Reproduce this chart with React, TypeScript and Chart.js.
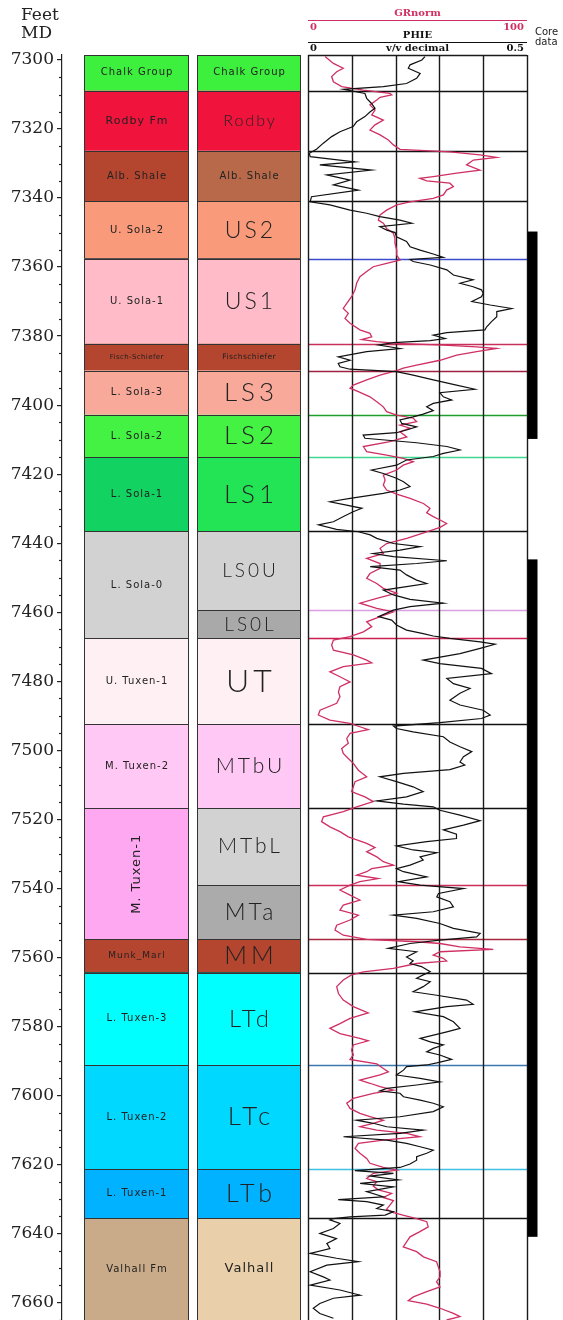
import React, { useEffect, useRef } from "react";
import { Chart, registerables } from "chart.js";
Chart.register(...registerables);

// ---------------- DATA ----------------
const DEPTH_MIN = 7298.55;
const DEPTH_MAX = 7665.1;
const DEPTH_LABELS = [7300, 7320, 7340, 7360, 7380, 7400, 7420, 7440, 7460, 7480, 7500, 7520, 7540, 7560, 7580, 7600, 7620, 7640, 7660];
const DEPTH_MINOR_STEP = 5;

const ZONE_NAMES = ["Chalk Group", "Rodby Fm", "Alb. Shale", "U. Sola-2", "U. Sola-1", "Fisch-Schiefer", "L. Sola-3", "L. Sola-2", "L. Sola-1", "L. Sola-0", "U. Tuxen-1", "M. Tuxen-2", "M. Tuxen-1", "Munk_Marl", "L. Tuxen-3", "L. Tuxen-2", "L. Tuxen-1", "Valhall Fm"];
const ZONE_TOPS = [7298.55, 7308.9, 7326.3, 7341.0, 7357.6, 7382.2, 7390.0, 7402.8, 7415.1, 7436.6, 7467.6, 7492.4, 7516.8, 7554.8, 7564.5, 7591.2, 7621.4, 7635.6];
const ZONE_BASES = [7308.9, 7326.3, 7341.0, 7357.6, 7382.2, 7390.0, 7402.8, 7415.1, 7436.6, 7467.6, 7492.4, 7516.8, 7554.8, 7564.5, 7591.2, 7621.4, 7635.6, 7665.1];

const SUBZONE_NAMES = ["Chalk Group", "Rodby", "Alb. Shale", "US2", "US1", "Fischschiefer", "LS3", "LS2", "LS1", "LS0U", "LS0L", "UT", "MTbU", "MTbL", "MTa", "MM", "LTd", "LTc", "LTb", "Valhall"];
const SUBZONE_TOPS = [7298.55, 7308.9, 7326.3, 7341.0, 7357.6, 7382.2, 7390.0, 7402.8, 7415.1, 7436.6, 7459.5, 7467.6, 7492.4, 7516.8, 7539.1, 7554.8, 7564.5, 7591.2, 7621.4, 7635.6];
const SUBZONE_BASES = [7308.9, 7326.3, 7341.0, 7357.6, 7382.2, 7390.0, 7402.8, 7415.1, 7436.6, 7459.5, 7467.6, 7492.4, 7516.8, 7539.1, 7554.8, 7564.5, 7591.2, 7621.4, 7635.6, 7665.1];

const TOP_LINE_DEPTHS = [7308.9, 7326.3, 7341.0, 7357.6, 7382.2, 7390.0, 7402.8, 7415.1, 7436.6, 7459.5, 7467.6, 7492.4, 7516.8, 7539.1, 7554.8, 7564.5, 7591.2, 7621.4, 7635.6];

const CORE_TOPS = [7349.7, 7444.7];
const CORE_BASES = [7409.8, 7641.0];

const GR_RANGE = [0, 100];
const PHIE_RANGE = [0, 0.5];
const PHIE_GRID = [0, 0.1, 0.2, 0.3, 0.4, 0.5];

const GR_DEPTH = [
  7299.0, 7301.0, 7302.4, 7303.4, 7304.8, 7306.3, 7307.7, 7308.7, 7309.7, 7310.1, 7310.8, 7311.6, 7313.0, 7314.5, 7315.9, 7317.4, 7318.8, 7320.3, 7321.7, 7323.2, 7324.6, 7325.9,
  7326.6, 7327.5, 7328.2, 7329.0, 7330.4, 7331.9, 7332.8, 7333.8, 7334.3, 7335.0, 7335.7, 7336.7, 7337.7, 7339.1, 7340.1, 7341.1, 7342.0, 7343.5, 7344.9, 7346.4, 7347.3,
  7348.8, 7350.2, 7351.7, 7353.1, 7355.1, 7356.5, 7358.0, 7358.9, 7359.9, 7361.3, 7362.8, 7364.7, 7366.6,
  7368.6, 7370.5, 7372.0, 7373.4, 7374.9, 7376.3, 7378.2, 7379.2, 7380.2, 7381.0, 7381.6, 7382.1, 7382.6, 7383.1, 7383.6, 7384.5, 7385.5, 7387.0, 7388.4, 7389.3, 7390.0,
  7391.3, 7392.7, 7394.2, 7395.1, 7396.1, 7397.6, 7399.0, 7400.5, 7401.9, 7402.9, 7403.8, 7404.8, 7405.8, 7406.7, 7407.7, 7409.2, 7410.6, 7412.0, 7413.5, 7414.5, 7415.4,
  7416.4, 7417.4, 7418.8, 7420.3, 7421.7, 7423.2, 7424.6, 7425.8, 7427.0, 7428.5, 7429.9, 7431.2, 7432.3, 7433.3, 7434.3, 7435.4, 7436.7, 7438.6, 7440.1, 7441.5, 7443.0,
  7444.4, 7445.9, 7447.3, 7448.8, 7450.2, 7451.7, 7453.1, 7454.5, 7456.0, 7457.4, 7458.9, 7459.9,
  7461.3, 7462.8, 7464.2, 7465.7, 7467.1, 7468.1, 7469.5, 7471.0, 7472.4, 7473.9, 7474.7, 7475.8, 7477.3, 7478.7, 7480.2, 7481.6, 7483.1, 7484.5, 7486.4, 7488.4, 7489.8,
  7491.3, 7492.2, 7493.2, 7494.0, 7495.1, 7496.6, 7498.0, 7499.5, 7500.9, 7502.4, 7503.8, 7505.8, 7507.7, 7509.1, 7510.6, 7512.0, 7513.5, 7514.9, 7516.4, 7517.8, 7519.3,
  7520.7, 7522.2, 7523.6, 7525.1, 7527.0, 7528.2, 7529.4, 7530.9, 7532.3, 7533.3, 7534.3, 7535.2, 7536.2, 7537.2, 7538.1, 7539.1, 7540.5, 7542.0, 7543.4, 7544.9, 7546.3,
  7547.8, 7549.2, 7550.7, 7552.1, 7553.6, 7554.8, 7555.5, 7556.0, 7557.0, 7557.7, 7558.4, 7559.4, 7560.3, 7561.1,
  7561.8, 7563.2, 7564.2, 7565.1, 7566.6, 7568.5, 7570.5, 7572.4, 7574.3, 7576.1, 7577.7, 7579.2, 7580.6, 7582.1, 7583.5, 7584.2, 7585.4, 7586.9, 7588.3, 7589.6, 7590.9,
  7592.2, 7593.2, 7594.1, 7595.6, 7596.5, 7597.5, 7598.5, 7599.4, 7600.9, 7602.3, 7603.8, 7605.2, 7606.2, 7607.2, 7608.1, 7609.1, 7610.1, 7611.0, 7612.0, 7613.0, 7613.9,
  7615.4, 7616.8, 7618.3, 7619.7, 7620.9, 7621.7, 7622.6, 7624.1, 7625.0, 7626.3, 7627.4, 7628.4, 7629.6, 7630.5, 7631.8, 7633.0, 7634.0, 7635.0, 7635.7, 7636.6, 7638.1,
  7639.5, 7641.0, 7642.4, 7643.9, 7645.3, 7646.8, 7648.2, 7649.7, 7651.1, 7652.6, 7654.0, 7655.5, 7656.9, 7658.4, 7659.5, 7660.5, 7661.7, 7663.2, 7664.1, 7665.1
];
const GR_VALUES = [
  7.8, 11.6, 16.1, 13.1, 10.8, 11.6, 15.4, 25.3, 37.4, 38.2, 32.9, 31.4, 28.3, 30.6, 29.1, 34.4, 30.6, 28.3, 32.9, 36.7, 39.0, 42.0,
  64.8, 78.5, 86.1, 75.5, 72.4, 78.5, 67.9, 57.2, 51.1, 54.2, 64.8, 66.4, 63.3, 61.8, 57.2, 46.6, 40.5, 35.9, 32.9, 32.1, 34.4,
  35.9, 39.0, 39.7, 39.7, 40.5, 40.5, 42.0, 35.9, 29.8, 26.8, 23.7, 22.2, 21.5,
  19.9, 17.7, 16.1, 18.4, 16.9, 19.2, 23.7, 28.3, 29.1, 24.5, 31.4, 40.5, 61.8, 77.0, 86.1, 77.0, 67.9, 60.3, 49.6, 43.5, 40.5,
  32.9, 26.8, 20.7, 19.2, 23.0, 28.3, 31.4, 34.4, 35.9, 40.5, 48.1, 49.6, 42.0, 46.6, 42.0, 45.1, 37.4, 25.3, 26.8, 35.9, 43.5,
  48.1, 43.5, 40.5, 34.4, 35.2, 34.4, 35.9, 40.5, 46.6, 52.7, 55.7, 54.2, 57.2, 60.3, 63.3, 60.3, 54.2, 45.1, 35.9, 32.9, 34.4,
  26.8, 32.9, 32.9, 28.3, 26.8, 31.4, 34.4, 40.5, 31.4, 23.7, 31.4, 39.0,
  32.9, 26.8, 29.1, 25.3, 19.2, 11.6, 10.8, 11.6, 20.7, 26.8, 29.1, 16.1, 10.0, 14.6, 19.2, 14.6, 13.9, 14.6, 13.1, 5.5, 4.7,
  10.0, 19.2, 23.7, 27.5, 19.2, 17.7, 18.4, 15.4, 16.1, 18.4, 20.7, 23.0, 26.8, 21.5, 20.7, 19.9, 26.0, 29.8, 22.2, 16.1, 7.0,
  6.2, 10.0, 14.6, 18.4, 26.8, 30.6, 26.8, 31.4, 34.4, 39.0, 29.1, 26.8, 22.2, 32.1, 23.7, 19.2, 14.6, 19.2, 23.7, 16.1, 14.6,
  23.0, 19.2, 13.1, 12.3, 16.1, 26.8, 49.6, 60.3, 69.4, 84.6, 60.3, 57.2, 61.8, 63.3,
  49.6, 39.0, 25.3, 19.9, 16.1, 13.1, 13.9, 16.1, 20.7, 27.5, 19.2, 14.6, 10.0, 14.6, 23.7, 27.5, 20.7, 19.9, 20.7, 19.2, 31.4,
  34.4, 36.7, 32.9, 23.7, 28.3, 32.9, 39.0, 29.8, 20.7, 17.7, 19.2, 23.7, 28.3, 34.4, 29.8, 23.7, 31.4, 45.1, 51.1, 34.4, 23.0,
  21.5, 23.7, 26.8, 28.3, 34.4, 40.5, 29.8, 26.8, 31.4, 29.8, 32.1, 38.2, 34.4, 39.0, 37.4, 35.9, 39.0, 45.1, 49.6, 54.2, 54.9,
  51.1, 46.6, 45.1, 43.5, 49.6, 52.7, 58.7, 59.5, 60.3, 60.3, 58.7, 60.3, 54.2, 48.1, 45.8, 54.2, 60.3, 66.4, 69.4, 63.3
];

const PHIE_DEPTH = [
  7299.0, 7300.0, 7301.4, 7302.4, 7303.9, 7305.3, 7306.8, 7307.7, 7308.5, 7309.7, 7311.1, 7312.6, 7314.0, 7315.0, 7316.4, 7317.9, 7319.3, 7320.8, 7322.2, 7324.1, 7325.8,
  7327.0, 7328.0, 7329.5, 7330.4, 7331.9, 7333.3, 7334.8, 7336.2, 7337.7, 7339.6, 7341.1, 7342.0, 7343.5, 7344.4, 7345.4, 7346.4, 7347.3, 7348.3, 7349.3, 7350.0, 7351.2,
  7352.6, 7354.1, 7355.1, 7356.2, 7357.2, 7357.8, 7358.4, 7359.4, 7360.8, 7362.3, 7363.7, 7364.7, 7365.7, 7366.6,
  7367.6, 7368.6, 7370.0, 7371.0, 7372.0, 7372.9, 7374.4, 7375.8, 7377.3, 7378.2, 7379.0, 7379.7, 7380.7, 7381.3, 7381.9, 7382.6, 7383.6, 7384.5, 7386.0, 7387.0, 7387.9,
  7388.9, 7389.6, 7390.3, 7391.3, 7392.7, 7394.2, 7395.4, 7396.4, 7397.6, 7398.5, 7399.5, 7400.5, 7401.6, 7402.6, 7403.4, 7404.3, 7405.3, 7406.3, 7407.2, 7408.0, 7408.7,
  7409.6, 7410.9, 7412.0, 7413.0, 7414.0, 7414.9, 7415.9, 7417.4, 7418.8, 7419.8, 7421.2, 7422.2, 7423.6, 7424.6, 7425.6, 7427.0, 7428.0, 7429.0, 7429.9, 7430.9, 7432.3,
  7433.8, 7434.7, 7436.0, 7436.7, 7437.6, 7438.6, 7440.1, 7441.0, 7442.0, 7443.0, 7443.9, 7445.1, 7445.9, 7446.8, 7447.8, 7449.2, 7450.7, 7451.7, 7452.6, 7453.6, 7455.0,
  7456.3, 7457.4, 7458.4, 7459.4,
  7461.3, 7462.3, 7463.7, 7465.2, 7466.2, 7466.9, 7467.6, 7468.6, 7469.3, 7470.5, 7472.0, 7473.9, 7474.9, 7476.3, 7477.8, 7479.2, 7480.7, 7482.1, 7483.5, 7485.5, 7486.9,
  7488.4, 7489.8, 7490.8, 7492.0, 7493.0, 7493.7, 7494.7, 7496.1, 7497.6, 7499.0, 7500.4, 7501.9, 7503.4, 7504.3, 7505.6, 7506.7, 7507.7, 7509.1, 7510.6, 7512.0, 7513.5,
  7514.7, 7515.6, 7516.4, 7517.4, 7518.8, 7520.4, 7521.7, 7523.1, 7524.3, 7525.6, 7526.5, 7527.7, 7528.9, 7529.7, 7530.9, 7531.8, 7533.3, 7534.3, 7535.2, 7536.7, 7538.1,
  7539.1, 7540.1, 7541.5, 7542.5, 7543.9, 7545.4, 7546.8, 7547.8, 7548.7, 7550.2, 7551.6, 7553.1, 7554.1, 7555.0, 7556.0, 7557.4, 7558.4, 7559.9, 7561.0,
  7561.8, 7562.7, 7564.2, 7565.1, 7566.1, 7567.1, 7568.5, 7570.0, 7571.0, 7572.4, 7573.6, 7574.3, 7575.8, 7577.2, 7578.7, 7580.6, 7581.6, 7583.5, 7584.5, 7585.4, 7586.4,
  7587.4, 7588.3, 7589.6, 7590.6, 7591.2, 7591.7, 7592.7, 7594.1, 7595.1, 7596.1, 7597.0, 7598.0, 7598.7, 7599.4, 7600.4, 7601.4, 7602.3, 7603.3, 7604.7, 7606.2, 7607.2,
  7608.1, 7609.1, 7610.1, 7611.0, 7612.0, 7613.0, 7613.9, 7614.9, 7615.9, 7616.8, 7617.8, 7618.8, 7619.9, 7620.9, 7621.8, 7622.6, 7623.4, 7624.5, 7625.5, 7626.5, 7627.9,
  7629.4, 7630.2, 7630.8, 7631.8, 7632.8, 7633.7, 7634.7, 7635.2, 7635.7, 7636.1, 7637.1, 7638.6, 7640.0, 7641.5, 7642.9, 7644.4, 7645.8, 7647.2, 7648.2, 7649.2, 7651.1,
  7652.6, 7653.5, 7655.0, 7656.4, 7657.9, 7658.8, 7660.3, 7661.7, 7663.2, 7664.6
];
const PHIE_VALUES = [
  0.267, 0.260, 0.233, 0.229, 0.256, 0.248, 0.225, 0.172, 0.081, 0.130, 0.134, 0.145, 0.153, 0.142, 0.130, 0.111, 0.103, 0.073, 0.054, 0.035, 0.020,
  0.003, 0.005, 0.107, 0.027, 0.145, 0.043, 0.096, 0.058, 0.115, 0.008, 0.005, 0.050, 0.096, 0.134, 0.164, 0.210, 0.237, 0.164, 0.180, 0.199, 0.202,
  0.225, 0.233, 0.256, 0.286, 0.309, 0.233, 0.240, 0.279, 0.317, 0.332, 0.377, 0.347, 0.377, 0.396,
  0.400, 0.396, 0.374, 0.416, 0.465, 0.431, 0.431, 0.419, 0.408, 0.404, 0.317, 0.286, 0.313, 0.279, 0.195, 0.161, 0.210, 0.134, 0.069, 0.096, 0.069,
  0.073, 0.096, 0.202, 0.240, 0.286, 0.339, 0.381, 0.301, 0.309, 0.328, 0.286, 0.271, 0.286, 0.263, 0.240, 0.210, 0.214, 0.248, 0.225, 0.202, 0.126,
  0.130, 0.248, 0.317, 0.347, 0.309, 0.286, 0.225, 0.202, 0.145, 0.172, 0.202, 0.218, 0.233, 0.210, 0.172, 0.096, 0.050, 0.088, 0.123, 0.103, 0.081,
  0.058, 0.024, 0.065, 0.115, 0.142, 0.157, 0.195, 0.256, 0.210, 0.149, 0.195, 0.317, 0.248, 0.142, 0.210, 0.225, 0.248, 0.271, 0.225, 0.172, 0.195,
  0.233, 0.309, 0.233, 0.195,
  0.161, 0.191, 0.202, 0.225, 0.263, 0.286, 0.324, 0.393, 0.427, 0.393, 0.347, 0.263, 0.301, 0.396, 0.419, 0.317, 0.332, 0.370, 0.347, 0.324, 0.347,
  0.400, 0.416, 0.396, 0.301, 0.195, 0.202, 0.240, 0.309, 0.324, 0.347, 0.374, 0.355, 0.347, 0.358, 0.324, 0.218, 0.164, 0.202, 0.240, 0.263, 0.225,
  0.157, 0.218, 0.286, 0.301, 0.347, 0.393, 0.355, 0.309, 0.339, 0.339, 0.271, 0.202, 0.240, 0.294, 0.256, 0.263, 0.233, 0.202, 0.218, 0.271, 0.206,
  0.256, 0.355, 0.298, 0.294, 0.324, 0.332, 0.286, 0.195, 0.248, 0.301, 0.332, 0.393, 0.385, 0.301, 0.233, 0.183, 0.248, 0.225, 0.240,
  0.233, 0.259, 0.279, 0.263, 0.248, 0.279, 0.263, 0.240, 0.294, 0.362, 0.377, 0.317, 0.244, 0.309, 0.332, 0.347, 0.317, 0.256, 0.279, 0.309, 0.286,
  0.271, 0.301, 0.328, 0.294, 0.271, 0.225, 0.218, 0.202, 0.256, 0.301, 0.248, 0.180, 0.164, 0.210, 0.218, 0.256, 0.286, 0.309, 0.286, 0.210, 0.111,
  0.149, 0.180, 0.263, 0.210, 0.081, 0.180, 0.225, 0.256, 0.286, 0.271, 0.248, 0.248, 0.233, 0.210, 0.107, 0.195, 0.142, 0.206, 0.119, 0.195, 0.134,
  0.172, 0.069, 0.134, 0.172, 0.157, 0.195, 0.176, 0.096, 0.058, 0.050, 0.073, 0.058, 0.027, 0.065, 0.043, 0.050, 0.005, 0.065, 0.115, 0.043, 0.005,
  0.035, 0.050, 0.005, 0.073, 0.119, 0.058, 0.027, 0.012, 0.027, 0.058
];

// ---------------- STYLES / LAYOUT ----------------
const ZONE_COLORS = ["#3ef03e", "#f0143c", "#b4452f", "#f99a7a", "#ffbcc8", "#b4452f", "#f9a99a", "#44f244", "#12d262", "#d2d2d2", "#fff0f3", "#ffc8f5", "#ffa8f2", "#b4452f", "#00ffff", "#00d8ff", "#00b2ff", "#c9ab89"];
const ZONE_FONT_SIZES = [10, 11, 10, 10, 10, 7, 10, 10, 10, 10, 10, 10, 13, 9, 10, 10, 10, 10];
const ZONE_ROTATED = [false, false, false, false, false, false, false, false, false, false, false, false, true, false, false, false, false, false];
const SUBZONE_COLORS = ["#3ef03e", "#f0143c", "#b8694a", "#f99a7a", "#ffbcc8", "#b4452f", "#f9a99a", "#44f244", "#22e455", "#d2d2d2", "#a9a9a9", "#fff0f3", "#ffc8f5", "#d2d2d2", "#ababab", "#b4452f", "#00ffff", "#00d8ff", "#00b2ff", "#e9d0aa"];
const SUBZONE_FONT_SIZES = [10, 16, 10, 23, 23, 7.5, 26, 26, 26, 19, 19, 32, 21, 21, 23, 25, 24, 26, 25, 13];
const TOP_LINE_COLORS = ["#111", "#111", "#111", "#3c4ccc", "#c8305a", "#a02040", "#1e9e2e", "#40d890", "#111", "#d8a0e0", "#cc2050", "#111", "#111", "#cc2f5a", "#a82840", "#111", "#3c78b0", "#40c0e4", "#111"];

const W = 563;
const H = 1320;
const PLOT_LEFT = 62;
const PLOT_TOP = 55;
const TRACK_LEFT = 308;
const TRACK_RIGHT = 527;
const COL1 = [84, 189];
const COL2 = [197, 301];
const CORE_W = 10;
const GR_COLOR = "#cf2f62";
const SERIF = "'DejaVu Serif', serif";
const SANS = "'DejaVu Sans', sans-serif";
const THIN = "'Lato', 'DejaVu Sans', sans-serif";

function axisRange(lo: number, hi: number) {
  const k = (hi - lo) / (TRACK_RIGHT - TRACK_LEFT);
  return { min: lo - (TRACK_LEFT - PLOT_LEFT) * k, max: hi + (W - TRACK_RIGHT) * k };
}

function drawColumn(ctx: CanvasRenderingContext2D, col: number[], tops: number[], bases: number[], colors: string[], py: (d: number) => number) {
  for (let i = 0; i < tops.length; i++) {
    const y0 = py(tops[i]);
    const y1 = py(bases[i]);
    ctx.fillStyle = colors[i];
    ctx.fillRect(col[0], y0, col[1] - col[0], y1 - y0);
    ctx.strokeStyle = "#333";
    ctx.lineWidth = 1;
    ctx.strokeRect(col[0] + 0.5, Math.round(y0) + 0.5, col[1] - col[0] - 1, Math.round(y1 - y0));
  }
}

function drawLabel(ctx: CanvasRenderingContext2D, text: string, cx: number, cy: number, size: number, rotated: boolean) {
  ctx.save();
  const big = size >= 15;
  ctx.font = big ? `300 ${size}px ${THIN}` : `${size}px ${SANS}`;
  const spacing = big ? Math.round(size * 0.14) : size >= 9 ? 1 : 0.4;
  (ctx as any).letterSpacing = `${spacing}px`;
  ctx.fillStyle = "#222";
  ctx.textAlign = "center";
  ctx.textBaseline = "middle";
  ctx.translate(cx + spacing / 2, cy);
  if (rotated) ctx.rotate(-Math.PI / 2);
  ctx.fillText(text, 0, 0);
  ctx.restore();
}

const wellLogPlugin = {
  id: "wellLog",
  beforeDatasetsDraw(chart: any) {
    const { ctx, chartArea, scales } = chart;
    const y = scales.y;
    const xp = scales.xphi;
    const top = chartArea.top;
    const bottom = chartArea.bottom;
    const py = (d: number) => Math.min(Math.max(y.getPixelForValue(d), top), bottom + 2);
    ctx.save();

    // formation columns
    drawColumn(ctx, COL1, ZONE_TOPS, ZONE_BASES, ZONE_COLORS, py);
    drawColumn(ctx, COL2, SUBZONE_TOPS, SUBZONE_BASES, SUBZONE_COLORS, py);
    for (let i = 0; i < ZONE_NAMES.length; i++) {
      const cy = (py(ZONE_TOPS[i]) + Math.min(py(ZONE_BASES[i]), bottom)) / 2;
      drawLabel(ctx, ZONE_NAMES[i], (COL1[0] + COL1[1]) / 2, cy, ZONE_FONT_SIZES[i], ZONE_ROTATED[i]);
    }
    for (let i = 0; i < SUBZONE_NAMES.length; i++) {
      const cy = (py(SUBZONE_TOPS[i]) + Math.min(py(SUBZONE_BASES[i]), bottom)) / 2;
      drawLabel(ctx, SUBZONE_NAMES[i], (COL2[0] + COL2[1]) / 2, cy, SUBZONE_FONT_SIZES[i], false);
    }

    // track: zone tops
    const xl = xp.getPixelForValue(PHIE_RANGE[0]);
    const xr = xp.getPixelForValue(PHIE_RANGE[1]);
    for (let i = 0; i < TOP_LINE_DEPTHS.length; i++) {
      const yy = Math.round(y.getPixelForValue(TOP_LINE_DEPTHS[i])) + 0.5;
      const black = TOP_LINE_COLORS[i] === "#111";
      ctx.strokeStyle = TOP_LINE_COLORS[i];
      ctx.lineWidth = black ? 1.4 : 1.3;
      ctx.beginPath();
      ctx.moveTo(xl, yy);
      ctx.lineTo(xr, yy);
      ctx.stroke();
    }
    // track grid
    ctx.strokeStyle = "#1a1a1a";
    ctx.lineWidth = 1.4;
    for (const v of PHIE_GRID) {
      const x = Math.round(xp.getPixelForValue(v)) + 0.5;
      ctx.beginPath();
      ctx.moveTo(x, top);
      ctx.lineTo(x, bottom);
      ctx.stroke();
    }
    ctx.beginPath();
    ctx.moveTo(xl, top + 0.5);
    ctx.lineTo(xr, top + 0.5);
    ctx.stroke();

    // core data
    ctx.fillStyle = "#000";
    for (let i = 0; i < CORE_TOPS.length; i++) {
      const y0 = py(CORE_TOPS[i]);
      const y1 = py(CORE_BASES[i]);
      ctx.fillRect(xr + 0.5, y0, CORE_W, y1 - y0);
    }
    ctx.restore();
  },
  afterDraw(chart: any) {
    const { ctx, chartArea, scales } = chart;
    const y = scales.y;
    const xp = scales.xphi;
    const xg = scales.xgr;
    ctx.save();

    // minor depth ticks
    ctx.strokeStyle = "#222";
    ctx.lineWidth = 1.2;
    for (let d = DEPTH_LABELS[0]; d <= DEPTH_MAX; d += DEPTH_MINOR_STEP) {
      if (DEPTH_LABELS.includes(d)) continue;
      const yy = Math.round(y.getPixelForValue(d)) + 0.5;
      ctx.beginPath();
      ctx.moveTo(chartArea.left - 3, yy);
      ctx.lineTo(chartArea.left, yy);
      ctx.stroke();
    }

    // depth header
    ctx.fillStyle = "#222";
    ctx.font = `17px ${SERIF}`;
    ctx.textAlign = "left";
    ctx.textBaseline = "alphabetic";
    ctx.fillText("Feet", 21, 20);
    ctx.fillText("MD", 21, 38);

    // track header
    const g0 = xg.getPixelForValue(GR_RANGE[0]);
    const g1 = xg.getPixelForValue(GR_RANGE[1]);
    const p0 = xp.getPixelForValue(PHIE_RANGE[0]);
    const p1 = xp.getPixelForValue(PHIE_RANGE[1]);
    const mid = (p0 + p1) / 2;
    ctx.font = `bold 10px ${SERIF}`;
    ctx.fillStyle = GR_COLOR;
    ctx.textAlign = "center";
    ctx.fillText("GRnorm", (g0 + g1) / 2, 16);
    ctx.strokeStyle = GR_COLOR;
    ctx.lineWidth = 1.2;
    ctx.beginPath();
    ctx.moveTo(g0, 20.5);
    ctx.lineTo(g1, 20.5);
    ctx.stroke();
    ctx.textAlign = "left";
    ctx.fillText(String(GR_RANGE[0]), g0 + 2, 30);
    ctx.textAlign = "right";
    ctx.fillText(String(GR_RANGE[1]), g1 - 3, 30);

    ctx.fillStyle = "#111";
    ctx.strokeStyle = "#111";
    ctx.textAlign = "center";
    ctx.fillText("PHIE", mid, 38);
    ctx.beginPath();
    ctx.moveTo(p0, 42.5);
    ctx.lineTo(p1, 42.5);
    ctx.stroke();
    ctx.fillText("v/v decimal", mid, 51);
    ctx.textAlign = "left";
    ctx.fillText(String(PHIE_RANGE[0]), p0 + 2, 51);
    ctx.textAlign = "right";
    ctx.fillText(String(PHIE_RANGE[1]), p1 - 3, 51);

    ctx.font = `10px ${SANS}`;
    ctx.textAlign = "left";
    ctx.fillStyle = "#222";
    ctx.fillText("Core", p1 + 8, 35);
    ctx.fillText("data", p1 + 8, 45);
    ctx.restore();
  },
};

export default function App() {
  const ref = useRef<HTMLCanvasElement>(null);
  useEffect(() => {
    if (!ref.current) return;
    const phi = axisRange(PHIE_RANGE[0], PHIE_RANGE[1]);
    const gr = axisRange(GR_RANGE[0], GR_RANGE[1]);
    const chart = new Chart(ref.current, {
      type: "line",
      data: {
        datasets: [
          {
            label: "PHIE",
            data: PHIE_DEPTH.map((d, i) => ({ x: PHIE_VALUES[i], y: d })),
            xAxisID: "xphi",
            yAxisID: "y",
            borderColor: "#111",
            borderWidth: 1.2,
            pointRadius: 0,
            tension: 0,
            fill: false,
          },
          {
            label: "GRnorm",
            data: GR_DEPTH.map((d, i) => ({ x: GR_VALUES[i], y: d })),
            xAxisID: "xgr",
            yAxisID: "y",
            borderColor: GR_COLOR,
            borderWidth: 1.3,
            pointRadius: 0,
            tension: 0,
            fill: false,
          },
        ],
      },
      options: {
        animation: false,
        responsive: false,
        devicePixelRatio: 1,
        indexAxis: "y",
        layout: { padding: { top: PLOT_TOP, left: 0, right: 0, bottom: 0 } },
        plugins: { legend: { display: false }, tooltip: { enabled: false } },
        scales: {
          y: {
            type: "linear",
            position: "left",
            reverse: true,
            min: DEPTH_MIN,
            max: DEPTH_MAX,
            afterFit: (s: any) => {
              s.width = PLOT_LEFT;
              s.paddingTop = 0;
              s.paddingBottom = 0;
            },
            afterBuildTicks: (s: any) => {
              s.ticks = DEPTH_LABELS.map((v) => ({ value: v }));
            },
            ticks: {
              autoSkip: false,
              callback: (v: any) => String(v),
              font: { family: "'DejaVu Serif', serif", size: 17 },
              color: "#222",
              padding: 3,
            },
            grid: { drawOnChartArea: false, tickLength: 5, color: "#222", lineWidth: 1.2 },
            border: { display: true, color: "#222", width: 1.2 },
          },
          xphi: { type: "linear", display: false, min: phi.min, max: phi.max },
          xgr: { type: "linear", display: false, min: gr.min, max: gr.max },
        },
      } as any,
      plugins: [wellLogPlugin],
    });
    return () => chart.destroy();
  }, []);
  return (
    <div style={{ position: "absolute", left: 0, top: 0, width: W, height: H, background: "#fff" }}>
      <canvas ref={ref} width={W} height={H} style={{ display: "block", width: W, height: H }} />
    </div>
  );
}
